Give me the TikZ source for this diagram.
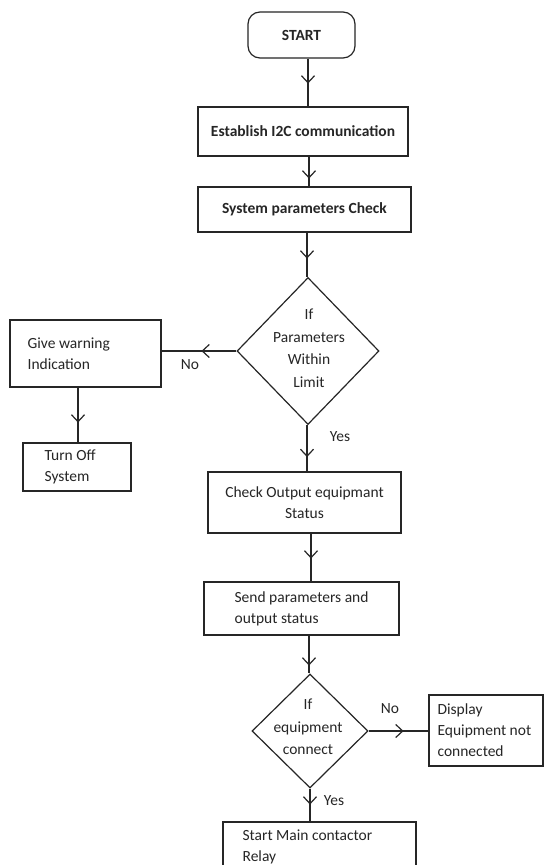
\documentclass[tikz,border=0pt]{standalone}
\usepackage{fontspec}
\setmainfont{Carlito}
\usetikzlibrary{shapes.geometric,arrows.meta,decorations.markings}
\tikzset{
  line/.style={draw=black!85, line width=1.2pt},
  box/.style={line, rectangle, inner sep=0pt},
  dia/.style={line, diamond, inner sep=0pt},
  txt/.style={inner sep=0pt, text=black!85, font=\fontsize{15.5}{21}\selectfont},
  marr/.style={postaction={decorate, decoration={markings,
     mark=at position #1 with {\arrow[black!85, line width=1.2pt]{Straight Barb[length=7pt,width=13pt]}}}}}
}
\begin{document}
\begin{tikzpicture}[x=1pt,y=-1pt]
\useasboundingbox[fill=white] (0,0) rectangle (544,865);
\clip (0,0) rectangle (544,865);
% boxes
\node[box, rounded corners=12pt, minimum width=107pt, minimum height=46pt, txt, font=\fontsize{15.5}{21}\selectfont\bfseries] (start) at (301.5,35) {START};
\node[box, minimum width=210pt, minimum height=49pt, txt, font=\fontsize{15.5}{21}\selectfont\bfseries] (estab) at (303,131.5) {Establish I2C communication};
\node[box, minimum width=213pt, minimum height=45pt, txt, font=\fontsize{15.5}{21}\selectfont\bfseries] (sys) at (304.5,209.5) {System parameters Check};
\node[dia, minimum width=142pt, minimum height=147pt] (d1) at (308,351) {};
\node[txt, align=center, font=\fontsize{15.5}{22.5}\selectfont] (d1t) at (309,348) {If\\Parameters\\Within\\Limit};
\node[box, minimum width=151pt, minimum height=67pt] (warn) at (85.5,353.5) {};
\node[txt, anchor=west, align=left] (warnt) at ([xshift=18pt]warn.west) {Give warning\\Indication};
\node[box, minimum width=108pt, minimum height=48pt] (off) at (77,467) {};
\node[txt, anchor=west, align=left] (offt) at ([xshift=22pt]off.west) {Turn Off\\System};
\node[box, minimum width=193pt, minimum height=61pt, txt, align=center] (check) at (304.5,502.5) {Check Output equipmant\\Status};
\node[box, minimum width=195pt, minimum height=53pt] (send) at (301.5,608.5) {};
\node[txt, anchor=west, align=left] (sendt) at ([xshift=31pt]send.west) {Send parameters and\\output status};
\node[dia, minimum width=116pt, minimum height=114pt] (d2) at (310,731) {};
\node[txt, align=center, font=\fontsize{15.5}{22.5}\selectfont] (d2t) at (308,727) {If\\equipment\\connect};
\node[box, minimum width=114pt, minimum height=71pt] (disp) at (486,730.5) {};
\node[txt, anchor=west, align=left] (dispt) at ([xshift=9pt]disp.west) {Display\\Equipment not\\connected};
\node[box, minimum width=193pt, minimum height=50pt] (relay) at (319.5,847) {};
\node[txt, anchor=west, align=left] (relayt) at ([xshift=20pt]relay.west) {Start Main contactor\\Relay};
% column coordinates
\coordinate (c1) at (308,0);
\coordinate (c2) at (309,0);
\coordinate (c3) at (307,0);
\coordinate (c4) at (78,0);
\coordinate (c6) at (307,0);
\coordinate (c7) at (311,0);
\coordinate (c8) at (309,0);
\coordinate (c10) at (310,0);
% connectors
\draw[line, marr=25pt] (start.south -| c1) -- (estab.north -| c1);
\draw[line, marr=22pt] (estab.south -| c2) -- (sys.north -| c2);
\draw[line, marr=26pt] (sys.south -| c3) -- (d1.north -| c3);
\draw[line, marr=35pt] (d1.west) -- (d1.west -| warn.east);
\draw[line, marr=35pt] (warn.south -| c4) -- (off.north -| c4);
\draw[line, marr=32pt] (d1.south -| c6) -- (check.north -| c6);
\draw[line, marr=25pt] (check.south -| c7) -- (send.north -| c7);
\draw[line, marr=30pt] (send.south -| c8) -- (d2.north -| c8);
\draw[line, marr=35pt] (d2.east) -- (d2.east -| disp.west);
\draw[line, marr=16pt] (d2.south -| c10) -- (relay.north -| c10);
% labels
\node[txt] (no1) at (190,365) {No};
\node[txt] (yes1) at (340,437) {Yes};
\node[txt] (no2) at (390,709) {No};
\node[txt] (yes2) at (334,801) {Yes};
\end{tikzpicture}
\end{document}
